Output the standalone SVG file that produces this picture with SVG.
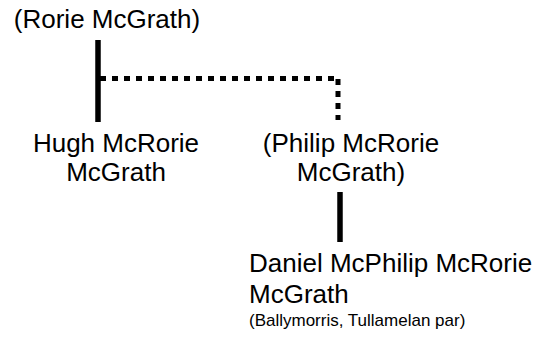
<svg xmlns="http://www.w3.org/2000/svg" width="554" height="337" viewBox="0 0 554 337">
<style>
.t{font-family:"Liberation Sans",Arial,sans-serif;font-size:26px;fill:#000}
.s{font-family:"Liberation Sans",Arial,sans-serif;font-size:17px;fill:#000}
.solid{stroke:#000;stroke-width:5.5;fill:none}
.dot{stroke:#000;stroke-width:5;fill:none;stroke-dasharray:6 6}
</style>
<rect width="554" height="337" fill="#fff"/>
<g id="connectors">
<line class="solid" x1="98" y1="40" x2="98" y2="122"/>
<line class="dot" x1="100" y1="78.5" x2="336" y2="78.5"/>
<line class="dot" x1="338" y1="79" x2="338" y2="120"/>
<line class="solid" x1="340" y1="192" x2="340" y2="242"/>
</g>
<g id="rorie">
<text class="t" x="107" y="28" text-anchor="middle">(Rorie McGrath)</text>
</g>
<g id="hugh">
<text class="t" x="116" y="152" text-anchor="middle">Hugh McRorie</text>
<text class="t" x="116" y="181" text-anchor="middle">McGrath</text>
</g>
<g id="philip">
<text class="t" x="351" y="152" text-anchor="middle">(Philip McRorie</text>
<text class="t" x="351" y="181" text-anchor="middle">McGrath)</text>
</g>
<g id="daniel">
<text class="t" x="249" y="272">Daniel McPhilip McRorie</text>
<text class="t" x="249" y="303">McGrath</text>
<text class="s" x="249" y="326">(Ballymorris, Tullamelan par)</text>
</g>
</svg>
